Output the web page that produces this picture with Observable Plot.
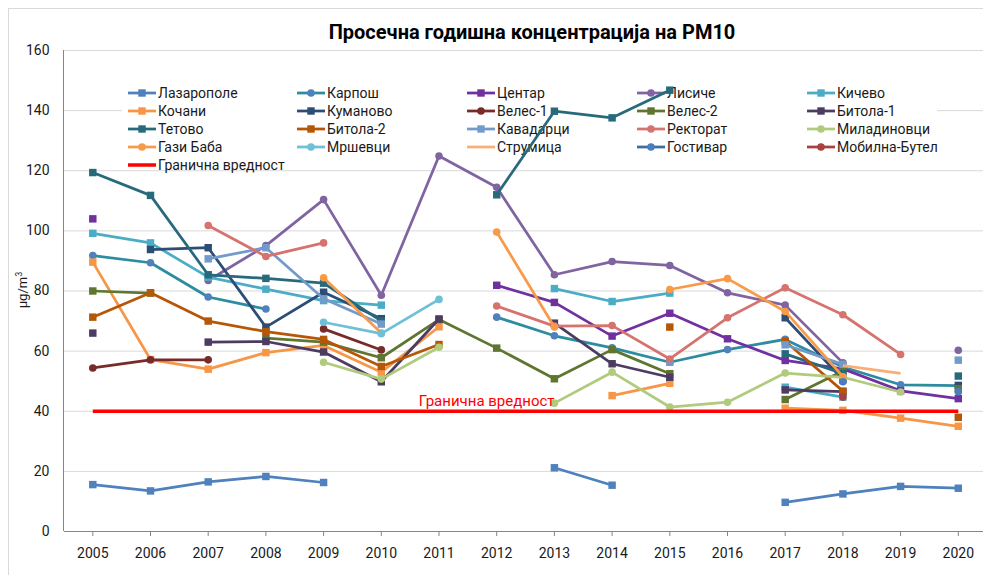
<!DOCTYPE html>
<html><head><meta charset="utf-8">
<script src="https://cdn.jsdelivr.net/npm/d3@7"></script>
<script src="https://cdn.jsdelivr.net/npm/@observablehq/plot@0.6"></script>
<style>
html,body{margin:0;padding:0;background:#fff;}
#wrap{position:relative;width:983px;height:575px;overflow:hidden;}
#border{position:absolute;left:8px;top:8px;width:1100px;height:700px;border:1px solid #d9d9d9;box-sizing:border-box;}
#chart{position:absolute;left:0;top:0;}
</style></head>
<body><div id="wrap"><div id="border"></div><div id="chart"></div></div>
<script>
const N = null;
const years = ["2005","2006","2007","2008","2009","2010","2011","2012","2013","2014","2015","2016","2017","2018","2019","2020"];
const yTicks = [0,20,40,60,80,100,120,140,160];

const seriesNames = ["Лазарополе","Карпош","Центар","Лисиче","Кичево","Кочани","Куманово","Велес-1","Велес-2","Битола-1","Тетово","Битола-2","Кавадарци","Ректорат","Миладиновци","Гази Баба","Мршевци","Струмица","Гостивар","Мобилна-Бутел","Гранична вредност"];

const lazaropole  = [15.6,13.5,16.5,18.3,16.3,N,N,N,21.2,15.4,N,N,9.7,12.5,15.0,14.4];
const karposh     = [91.8,89.4,78.0,74.0,N,N,N,71.3,65.1,61.1,56.3,60.5,63.9,54.7,48.8,48.5];
const centar      = [104.0,N,N,N,N,N,N,81.9,76.2,65.0,72.6,64.1,56.9,54.1,46.8,44.2];
const lisiche     = [N,N,83.5,95.1,110.4,78.6,124.9,114.5,85.4,89.8,88.5,79.4,75.3,56.1,N,60.3];
const kichevo     = [99.2,96.0,84.6,80.6,76.8,75.3,N,N,80.8,76.5,79.3,N,48.0,44.7,N,N];
const kochani     = [89.6,57.2,54.0,59.5,61.9,53.0,68.1,N,N,45.2,49.3,N,41.0,40.3,37.7,35.0];
const kumanovo    = [N,93.8,94.4,68.0,79.6,70.8,N,N,N,N,N,N,71.1,50.5,N,48.6];
const veles1      = [54.4,57.1,57.1,N,67.4,60.4,N,N,N,N,N,N,N,N,N,N];
const veles2      = [80.0,79.3,N,64.3,63.0,57.8,70.5,61.0,50.8,60.5,52.5,N,43.9,53.4,N,47.5];
const bitola1     = [66.0,N,63.0,63.2,59.7,49.8,70.7,N,69.3,55.8,51.3,N,47.1,46.5,N,N];
const tetovo      = [119.4,111.8,85.4,84.2,82.6,70.0,N,112.0,139.8,137.6,146.8,N,59.1,52.5,N,51.7];
const bitola2     = [71.3,79.4,70.0,66.5,63.9,54.9,62.2,N,N,N,68.0,N,63.3,46.7,N,38.0];
const kavadarci   = [N,N,90.7,94.4,77.4,69.0,N,N,N,N,56.3,N,62.1,55.6,N,57.0];
const rektorat    = [N,N,101.8,91.5,96.0,N,N,75.0,68.3,68.5,57.4,71.1,81.1,72.1,58.9,N];
const miladinovci = [N,N,N,N,56.3,50.7,61.3,N,42.7,53.0,41.4,43.0,52.7,51.3,46.4,N];
const gaziBaba    = [N,N,N,N,84.4,66.0,N,99.6,68.0,N,80.5,84.1,73.2,51.5,N,N];
const mrshevci    = [N,N,N,N,69.6,65.8,77.2,N,N,N,N,N,N,N,N,N];
const strumica    = [N,N,N,N,N,N,N,N,N,N,N,N,N,55.2,52.6,N];
const gostivar    = [N,N,N,N,N,N,N,N,N,N,N,N,N,49.8,N,46.5];
const mobilna     = [N,N,N,N,N,N,N,N,N,N,N,N,N,44.7,N,N];
const limitValue  = [40,40,40,40,40,40,40,40,40,40,40,40,40,40,40,40];

const seriesValues = [lazaropole,karposh,centar,lisiche,kichevo,kochani,kumanovo,veles1,veles2,bitola1,tetovo,bitola2,kavadarci,rektorat,miladinovci,gaziBaba,mrshevci,strumica,gostivar,mobilna,limitValue];

// styles
const lineColors = ["#4F81BD","#2E8CA0","#7030A0","#8064A2","#4BACC6","#F79646","#2C4D75","#772C2A","#5F7530","#4D3B62","#276A7C","#B65708","#729ACA","#D6736F","#B0CB7C","#F89B48","#6DC0D6","#F9AE76","#3B6FA0","#A9413E","#FF0000"];
const markerColors = ["#4F81BD","#4F81BD","#7030A0","#8064A2","#4BACC6","#F79646","#2C4D75","#772C2A","#5F7530","#4D3B62","#276A7C","#B65708","#729ACA","#D6736F","#B0CB7C","#F89B48","#6DC0D6","#F9AE76","#4A7DBA","#A9413E","#FF0000"];
const markerShapes = ["square","circle","square","circle","square","square","square","circle","square","square","square","square","square","circle","circle","circle","circle",null,"circle","circle",null];

const rows = [];
seriesNames.forEach((name,i)=>seriesValues[i].forEach((v,j)=>rows.push({series:name, idx:i, year:years[j], value:v})));

const FONT = "Roboto, 'Open Sans', sans-serif";
const W = 983, H = 575, mL = 64, mT = 50, mB = 44;

const marks = [
  Plot.gridY(yTicks, {stroke:"#d9d9d9", strokeOpacity:1}),
  Plot.axisY({ticks: yTicks, tickSize:0, tickPadding:15, fontSize:14, fill:"#1a1a1a"}),
  Plot.axisX({tickSize:5, tickPadding:12, fontSize:14, stroke:"#868686", fill:"#1a1a1a"}),
  Plot.ruleY([0], {stroke:"#868686", strokeWidth:1})
];
seriesNames.forEach((name,i)=>{
  const d = rows.filter(r=>r.idx===i);
  const last = i === seriesNames.length-1;
  marks.push(Plot.line(d, {x:"year", y:"value", stroke:lineColors[i], strokeWidth: last?3.5:2.75, strokeLinejoin:"round", strokeLinecap:"butt"}));
  if (markerShapes[i]) {
    marks.push(Plot.dot(d.filter(r=>r.value!=null), {x:"year", y:"value", symbol:markerShapes[i], fill:markerColors[i], stroke:"none", r: markerShapes[i]==="square"?4.2:3.8}));
  }
});
marks.push(Plot.text([{year:"2012", value:40, label:"Гранична вредност"}], {x:"year", y:"value", text:"label", fill:"#FF0000", fontSize:15, dx:-10, dy:-10}));

const chart = Plot.plot({
  width: W, height: H,
  marginLeft: mL, marginRight: 0, marginTop: mT, marginBottom: mB,
  style: {fontFamily: FONT, fontSize:"14px", background:"transparent", color:"#1a1a1a"},
  x: {type:"point", domain: years, range:[92.3, 957.8], padding:0, round:false, label:null},
  y: {domain:[0,160], label:null},
  marks
});
document.getElementById("chart").appendChild(chart);

// decorations: left axis line, title, y title, legend
const svg = d3.select(chart);
svg.append("line").attr("x1",mL-0.5).attr("x2",mL-0.5).attr("y1",mT).attr("y2",H-mB).attr("stroke","#868686");
svg.append("text").attr("x",532).attr("y",39).attr("text-anchor","middle")
  .attr("font-family",FONT).attr("font-size",20).attr("font-weight","bold").attr("fill","#000")
  .text("Просечна годишна концентрација на PM10");
const yt = svg.append("text").attr("transform","translate(27,290) rotate(-90)").attr("text-anchor","middle")
  .attr("font-family",FONT).attr("font-size",13).attr("fill","#1a1a1a");
yt.append("tspan").text("µg/m");
yt.append("tspan").attr("font-size",9).attr("dy",-5).text("3");

// legend placed above gridlines, below data
const gridNode = svg.select("g[aria-label='y-grid']").node();
const lg = svg.insert("g", () => gridNode ? gridNode.nextSibling : svg.node().firstChild).attr("text-anchor","start");
lg.append("rect").attr("x",122).attr("y",84).attr("width",815).attr("height",85).attr("fill","#fff");
const colX = [128,297,467,637,807], rowY = [93,111,129,147,165];
seriesNames.forEach((name,i)=>{
  const cx = colX[i%5], cy = rowY[Math.floor(i/5)];
  const g = lg.append("g");
  g.append("line").attr("x1",cx).attr("x2",cx+28).attr("y1",cy).attr("y2",cy).attr("stroke",lineColors[i]).attr("stroke-width",i===20?3.5:2.75);
  if (markerShapes[i]==="square") g.append("rect").attr("x",cx+14-3.7).attr("y",cy-3.7).attr("width",7.4).attr("height",7.4).attr("fill",markerColors[i]);
  else if (markerShapes[i]==="circle") g.append("circle").attr("cx",cx+14).attr("cy",cy).attr("r",3.8).attr("fill",markerColors[i]);
  g.append("text").attr("x",cx+30).attr("y",cy+5).attr("text-anchor","start").attr("font-family",FONT).attr("font-size",14).attr("fill","#1a1a1a").text(name);
});
</script></body></html>
